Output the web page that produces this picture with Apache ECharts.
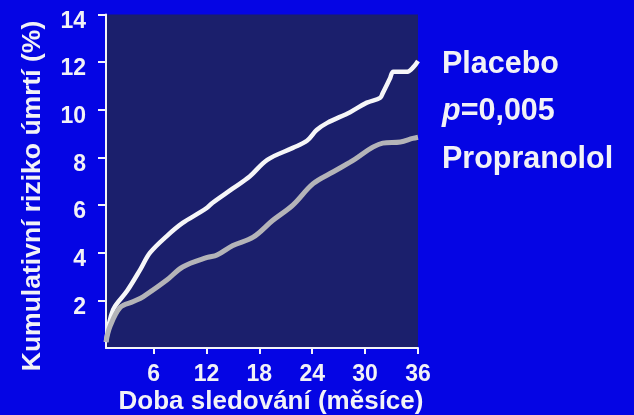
<!DOCTYPE html>
<html>
<head>
<meta charset="utf-8">
<script src="https://cdn.jsdelivr.net/npm/echarts@6/dist/echarts.min.js"></script>
<style>
  html, body { margin: 0; padding: 0; background: #0505e4; }
  #chart { width: 634px; height: 415px; }
</style>
</head>
<body>
<div id="chart"></div>
<script>
// Cumulative mortality risk (%) over follow-up months
const placeboMonths = [0.6, 1.4, 3.0, 4.5, 5.6, 7.5, 9.3, 11.3, 12.1, 12.7, 15.0, 16.9, 18.9, 21.8, 23.4, 24.5, 25.7, 28.3, 30.2, 31.7, 32.0, 32.8, 33.2, 34.0, 34.8, 35.5, 36.0];
const placeboRisk   = [0.25, 1.6, 2.4, 3.3, 4.0, 4.7, 5.25, 5.7, 5.9, 6.1, 6.7, 7.2, 7.9, 8.4, 8.7, 9.15, 9.45, 9.9, 10.3, 10.5, 10.7, 11.3, 11.6, 11.6, 11.6, 11.8, 12.05];

const propranololMonths = [0.6, 1.05, 2.2, 3.7, 4.8, 7.5, 9.3, 12.1, 13.2, 15.0, 17.3, 19.5, 21.8, 24.1, 26.4, 28.3, 32.0, 34.0, 35.4, 36.0];
const propranololRisk   = [0.25, 0.9, 1.7, 1.95, 2.15, 2.85, 3.4, 3.8, 3.9, 4.3, 4.65, 5.35, 6.0, 6.9, 7.4, 7.8, 8.6, 8.65, 8.8, 8.85];

const xTicks = [6, 12, 18, 24, 30, 36];
const yTicks = [2, 4, 6, 8, 10, 12, 14];

const xTitle = 'Doba sledování (měsíce)';
const yTitle = 'Kumulativní riziko úmrtí (%)';
const seriesNames = ['Placebo', 'Propranolol'];
const pValue = '0,005';

const FONT = '"Liberation Sans", Arial, sans-serif';
const TEXT = '#f2f2f6';

const pairs = (xs, ys) => xs.map((x, i) => [x, ys[i]]);

const chart = echarts.init(document.getElementById('chart'), null, { renderer: 'canvas' });

chart.setOption({
  backgroundColor: '#0505e4',
  animation: false,
  grid: {
    left: 106, right: 216, top: 14.5, bottom: 67,
    show: true, backgroundColor: '#1b1f6c', borderWidth: 0
  },
  xAxis: {
    type: 'value', min: 0.6, max: 36,
    splitLine: { show: false },
    axisLine: { show: true, lineStyle: { color: '#f4f4f8', width: 2 } },
    axisTick: { show: true, customValues: xTicks, length: 6, lineStyle: { color: '#f4f4f8', width: 2 } },
    axisLabel: {
      customValues: xTicks, margin: 15,
      color: TEXT, fontFamily: FONT, fontWeight: 'bold', fontSize: 23
    }
  },
  yAxis: {
    type: 'value', min: 0, max: 14,
    splitLine: { show: false },
    axisLine: { show: true, lineStyle: { color: '#f4f4f8', width: 2 } },
    axisTick: { show: true, customValues: yTicks, length: 8, lineStyle: { color: '#f4f4f8', width: 2 } },
    axisLabel: {
      customValues: yTicks, margin: 20,
      formatter: v => '{t|' + v + '}',
      rich: {
        t: {
          color: TEXT, fontFamily: FONT, fontWeight: 'bold', fontSize: 23,
          padding: [14, 0, 0, 0]
        }
      }
    }
  },
  series: [
    {
      name: seriesNames[0], type: 'line', data: pairs(placeboMonths, placeboRisk),
      showSymbol: false, smooth: 0.35,
      lineStyle: { color: '#f6f6f8', width: 4.5 }
    },
    {
      name: seriesNames[1], type: 'line', data: pairs(propranololMonths, propranololRisk),
      showSymbol: false, smooth: 0.35,
      lineStyle: { color: '#b4b4b8', width: 5 }
    }
  ],
  graphic: [
    {
      type: 'text', x: 271, y: 402,
      style: {
        text: xTitle, fill: TEXT, font: 'bold 26px ' + FONT,
        align: 'center', verticalAlign: 'middle'
      }
    },
    {
      type: 'text', x: 33, y: 196, rotation: Math.PI / 2,
      style: {
        text: yTitle, fill: TEXT, font: 'bold 26.5px ' + FONT,
        align: 'center', verticalAlign: 'middle'
      }
    },
    {
      type: 'text', x: 442, y: 65,
      style: { text: seriesNames[0], fill: TEXT, font: 'bold 30.5px ' + FONT, verticalAlign: 'middle' }
    },
    {
      type: 'text', x: 442, y: 112,
      style: {
        text: '{i|p}{n|=' + pValue + '}', fill: TEXT, verticalAlign: 'middle',
        rich: {
          i: { fill: TEXT, fontFamily: FONT, fontWeight: 'bold', fontStyle: 'italic', fontSize: 30.5 },
          n: { fill: TEXT, fontFamily: FONT, fontWeight: 'bold', fontSize: 30.5 }
        }
      }
    },
    {
      type: 'text', x: 442, y: 160,
      style: { text: seriesNames[1], fill: TEXT, font: 'bold 30.5px ' + FONT, verticalAlign: 'middle' }
    }
  ]
});
</script>
</body>
</html>
